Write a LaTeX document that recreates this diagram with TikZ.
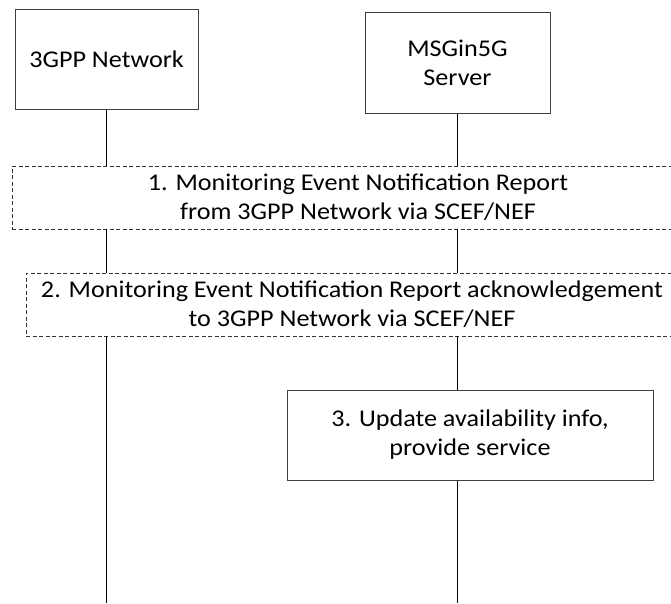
\documentclass[tikz,border=0pt]{standalone}
\usepackage{fontspec}
\setmainfont[FakeStretch=1.09]{Carlito}
\begin{document}
\begin{tikzpicture}[x=1pt,y=-1pt,
  every node/.style={font=\fontsize{24}{29}\selectfont},
  entity/.style={draw=black!75,line width=1pt,fill=white,align=center,inner sep=0pt},
  msgbox/.style={draw=black!80,line width=0.8pt,dash pattern=on 4pt off 2.5pt,align=center,inner sep=0pt},
  actbox/.style={draw=black!75,line width=1pt,fill=white,align=center,inner sep=0pt},
  life/.style={line width=1.4pt,black}]
\useasboundingbox (0,0) rectangle (671,603);
\clip (0,0) rectangle (671,603);
\node[entity,minimum width=183pt,minimum height=100pt] (A) at (106.5,59) {3GPP Network};
\node[entity,minimum width=185pt,minimum height=101pt] (B) at (457.5,62.5) {MSGin5G\\Server};
\node[msgbox,minimum width=692pt,minimum height=63pt] (m1) at (358,197.5) {1. Monitoring Event Notification Report\\from 3GPP Network via SCEF/NEF};
\node[msgbox,minimum width=652pt,minimum height=63pt] (m2) at (352,304.5) {2. Monitoring Event Notification Report acknowledgement\\to 3GPP Network via SCEF/NEF};
\node[actbox,minimum width=366pt,minimum height=90pt] (s3) at (470,435) {3. Update availability info,\\provide service};
\coordinate (Aend) at (106.5,603);
\coordinate (Bend) at (457.5,603);
\draw[life] (A.south) -- (A.south |- m1.north);
\draw[life] (A.south |- m1.south) -- (A.south |- m2.north);
\draw[life] (A.south |- m2.south) -- (Aend);
\draw[life] (B.south) -- (B.south |- m1.north);
\draw[life] (B.south |- m1.south) -- (B.south |- m2.north);
\draw[life] (B.south |- m2.south) -- (B.south |- s3.north);
\draw[life] (B.south |- s3.south) -- (Bend);
\end{tikzpicture}
\end{document}
